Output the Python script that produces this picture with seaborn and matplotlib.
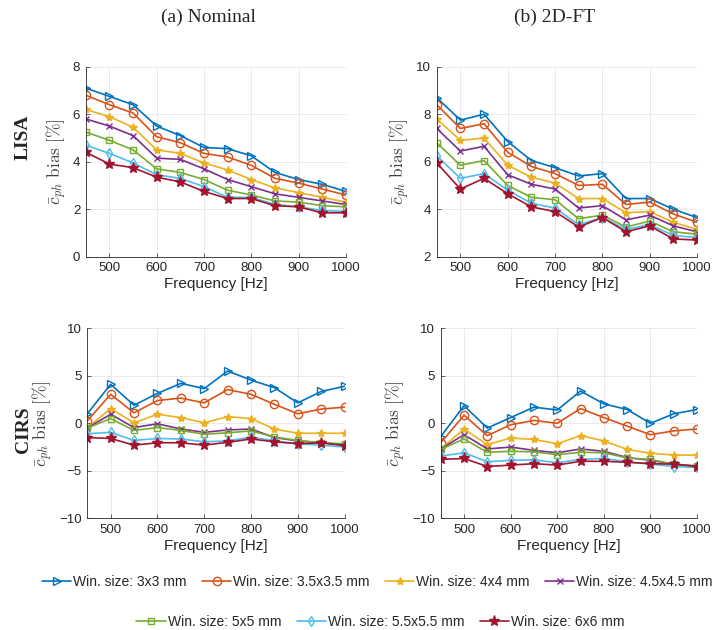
import numpy as np
import pandas as pd
import matplotlib
matplotlib.use('Agg')
import matplotlib.pyplot as plt
import seaborn as sns

freq = [450, 500, 550, 600, 650, 700, 750, 800, 850, 900, 950, 1000]

win_labels = ['Win. size: 3x3 mm', 'Win. size: 3.5x3.5 mm', 'Win. size: 4x4 mm',
              'Win. size: 4.5x4.5 mm', 'Win. size: 5x5 mm', 'Win. size: 5.5x5.5 mm',
              'Win. size: 6x6 mm']

# LISA, nominal
lisa_nom_3 = [7.1, 6.75, 6.4, 5.5, 5.1, 4.6, 4.55, 4.25, 3.55, 3.25, 3.05, 2.75]
lisa_nom_35 = [6.8, 6.4, 6.05, 5.05, 4.8, 4.35, 4.2, 3.85, 3.3, 3.1, 2.85, 2.6]
lisa_nom_4 = [6.2, 5.9, 5.45, 4.5, 4.35, 3.95, 3.65, 3.25, 2.9, 2.7, 2.5, 2.3]
lisa_nom_45 = [5.8, 5.5, 5.1, 4.15, 4.1, 3.7, 3.25, 2.95, 2.65, 2.5, 2.35, 2.2]
lisa_nom_5 = [5.25, 4.9, 4.5, 3.7, 3.55, 3.25, 2.8, 2.6, 2.35, 2.3, 2.15, 2.1]
lisa_nom_55 = [4.7, 4.35, 3.95, 3.45, 3.3, 2.95, 2.5, 2.5, 2.2, 2.1, 1.95, 1.9]
lisa_nom_6 = [4.4, 3.9, 3.75, 3.35, 3.15, 2.75, 2.45, 2.45, 2.15, 2.1, 1.85, 1.85]

# LISA, 2D-FT
lisa_ft_3 = [8.7, 7.75, 8.0, 6.85, 6.05, 5.75, 5.4, 5.5, 4.45, 4.45, 4.0, 3.65]
lisa_ft_35 = [8.4, 7.4, 7.6, 6.4, 5.8, 5.5, 5.0, 5.05, 4.2, 4.3, 3.8, 3.45]
lisa_ft_4 = [7.8, 6.9, 7.0, 5.85, 5.35, 5.1, 4.45, 4.45, 3.85, 3.9, 3.45, 3.15]
lisa_ft_45 = [7.4, 6.45, 6.65, 5.45, 5.05, 4.85, 4.05, 4.15, 3.55, 3.75, 3.3, 3.05]
lisa_ft_5 = [6.8, 5.85, 6.05, 5.0, 4.5, 4.4, 3.6, 3.75, 3.25, 3.5, 3.05, 2.95]
lisa_ft_55 = [6.25, 5.3, 5.5, 4.8, 4.25, 4.05, 3.35, 3.65, 3.15, 3.35, 2.9, 2.8]
lisa_ft_6 = [5.95, 4.85, 5.3, 4.65, 4.1, 3.9, 3.25, 3.65, 3.05, 3.3, 2.75, 2.7]

# CIRS, nominal
cirs_nom_3 = [1.0, 4.1, 1.9, 3.15, 4.2, 3.65, 5.5, 4.55, 3.75, 2.15, 3.35, 3.9]
cirs_nom_35 = [0.25, 3.05, 1.1, 2.4, 2.65, 2.15, 3.55, 3.05, 2.0, 1.0, 1.5, 1.7]
cirs_nom_4 = [-0.5, 1.55, 0.05, 0.95, 0.6, 0.05, 0.7, 0.5, -0.6, -1.05, -1.05, -1.05]
cirs_nom_45 = [-0.5, 0.95, -0.45, -0.05, -0.6, -0.95, -0.7, -0.6, -1.5, -1.85, -2.05, -2.3]
cirs_nom_5 = [-0.5, 0.5, -0.75, -0.45, -0.75, -1.15, -1.0, -0.8, -1.45, -1.8, -2.05, -2.15]
cirs_nom_55 = [-1.1, -0.95, -1.8, -1.6, -1.65, -1.95, -1.85, -1.45, -1.85, -2.15, -2.3, -2.5]
cirs_nom_6 = [-1.5, -1.6, -2.3, -2.05, -2.05, -2.3, -2.0, -1.65, -1.95, -2.15, -2.05, -2.35]

# CIRS, 2D-FT
cirs_ft_3 = [-1.4, 1.85, -0.5, 0.6, 1.7, 1.4, 3.4, 2.05, 1.45, 0.0, 1.0, 1.45]
cirs_ft_35 = [-2.05, 0.85, -1.3, -0.15, 0.3, 0.0, 1.55, 0.6, -0.3, -1.2, -0.8, -0.6]
cirs_ft_4 = [-2.7, -0.6, -2.25, -1.55, -1.7, -2.15, -1.3, -1.85, -2.75, -3.15, -3.35, -3.35]
cirs_ft_45 = [-2.7, -1.2, -2.7, -2.5, -2.85, -3.1, -2.7, -2.95, -3.6, -3.9, -4.3, -4.5]
cirs_ft_5 = [-2.75, -1.65, -3.05, -2.95, -3.0, -3.3, -3.05, -3.1, -3.65, -3.8, -4.3, -4.5]
cirs_ft_55 = [-3.45, -3.1, -4.05, -3.9, -3.85, -4.15, -3.8, -3.7, -4.05, -4.3, -4.55, -4.65]
cirs_ft_6 = [-3.8, -3.7, -4.55, -4.4, -4.25, -4.4, -4.0, -4.0, -4.1, -4.25, -4.3, -4.55]

panels = [
    [lisa_nom_3, lisa_nom_35, lisa_nom_4, lisa_nom_45, lisa_nom_5, lisa_nom_55, lisa_nom_6],
    [lisa_ft_3, lisa_ft_35, lisa_ft_4, lisa_ft_45, lisa_ft_5, lisa_ft_55, lisa_ft_6],
    [cirs_nom_3, cirs_nom_35, cirs_nom_4, cirs_nom_45, cirs_nom_5, cirs_nom_55, cirs_nom_6],
    [cirs_ft_3, cirs_ft_35, cirs_ft_4, cirs_ft_45, cirs_ft_5, cirs_ft_55, cirs_ft_6],
]

colors = ['#0072BD', '#D95319', '#EDB120', '#7E2F8E', '#77AC30', '#4DBEEE', '#A2142F']
markers = ['>', 'o', '*', 'x', 's', 'd', '*']
msizes = [6, 6, 6, 4, 4.5, 5, 8]
hollow = [True, True, False, False, True, True, False]

sns.set_theme(style='ticks')
plt.rcParams['font.family'] = ['Liberation Sans', 'DejaVu Sans']
plt.rcParams['mathtext.fontset'] = 'cm'

fig = plt.figure(figsize=(7.15, 6.3), dpi=100)
rects = [
    [0.120, 0.5925, 0.3636, 0.3016],
    [0.6108, 0.5925, 0.364, 0.3016],
    [0.122, 0.1773, 0.360, 0.3016],
    [0.6164, 0.1773, 0.3585, 0.3016],
]
ylims = [(0, 8), (2, 10), (-10, 10), (-10, 10)]
yticks = [[0, 2, 4, 6, 8], [2, 4, 6, 8, 10], [-10, -5, 0, 5, 10], [-10, -5, 0, 5, 10]]

handles = []
for i, series in enumerate(panels):
    ax = fig.add_axes(rects[i])
    for j, vals in enumerate(series):
        df = pd.DataFrame({'freq': freq, 'bias': vals})
        kw = dict(markerfacecolor='none') if hollow[j] else {}
        sns.lineplot(data=df, x='freq', y='bias', ax=ax, color=colors[j],
                     marker=markers[j], markersize=msizes[j], markeredgecolor=colors[j],
                     markeredgewidth=1.0, linewidth=1.2, label=win_labels[j], **kw)
    ax.set_xlim(450, 1000)
    ax.set_ylim(*ylims[i])
    ax.set_xticks([500, 600, 700, 800, 900, 1000])
    ax.set_yticks(yticks[i])
    ax.grid(True, color='#e6e6e6', linewidth=0.6)
    ax.set_axisbelow(True)
    for s in ['top', 'right']:
        ax.spines[s].set_visible(False)
    for s in ['left', 'bottom']:
        ax.spines[s].set_color('#262626')
        ax.spines[s].set_linewidth(0.6)
    ax.tick_params(direction='in', length=3, width=0.5, labelsize=9.5,
                   colors='#262626', pad=4)
    ax.set_xlabel('Frequency [Hz]', fontsize=11, color='#262626', labelpad=2)
    ax.set_ylabel(r'$\bar{c}_{ph}\ \mathrm{bias}\ [\%]$', fontsize=12.5,
                  color='#404040', labelpad=3)
    if i == 0:
        handles, labels = ax.get_legend_handles_labels()
    ax.get_legend().remove()

serif = ['Liberation Serif', 'DejaVu Serif']
fig.text(0.292, 0.973, '(a) Nominal', ha='center', va='center', fontsize=14, family=serif)
fig.text(0.776, 0.973, '(b) 2D-FT', ha='center', va='center', fontsize=14, family=serif)
fig.text(0.033, 0.782, 'LISA', rotation=90, ha='center', va='center', fontsize=14,
         fontweight='bold', family=serif)
fig.text(0.033, 0.318, 'CIRS', rotation=90, ha='center', va='center', fontsize=14,
         fontweight='bold', family=serif)

leg_kw = dict(frameon=False, fontsize=10, handlelength=2.1, handletextpad=0.15,
              columnspacing=1.1)
fig.legend(handles[:4], win_labels[:4], loc='center', ncol=4,
           bbox_to_anchor=(0.528, 0.076), **leg_kw)
fig.legend(handles[4:], win_labels[4:], loc='center', ncol=3,
           bbox_to_anchor=(0.532, 0.013), **leg_kw)

fig.savefig('out.png', dpi=100)
